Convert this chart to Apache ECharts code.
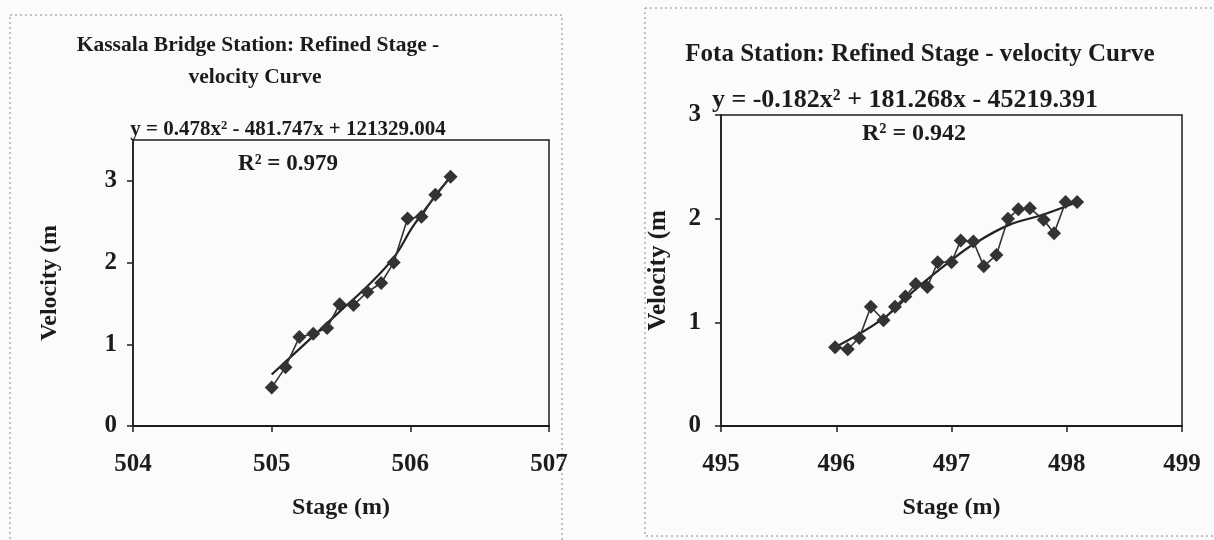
<!DOCTYPE html>
<html>
<head>
<meta charset="utf-8">
<script src="https://cdn.jsdelivr.net/npm/echarts@6/dist/echarts.min.js"></script>
<style>
  html, body { margin: 0; padding: 0; background: #fbfbfb; }
  #chart { width: 1214px; height: 540px; }
</style>
</head>
<body>
<div id="chart"></div>
<script>
// Kassala Bridge station
var kassalaStage = [505.0, 505.1, 505.2, 505.3, 505.4, 505.49, 505.59, 505.69, 505.79, 505.88, 505.98, 506.08, 506.18, 506.29];
var kassalaVel = [0.47, 0.72, 1.09, 1.13, 1.20, 1.49, 1.48, 1.64, 1.75, 2.00, 2.54, 2.56, 2.83, 3.05];
// trend line
var kassalaTrendStage = [505.0, 505.3, 505.49, 505.69, 505.88, 506.03, 506.29];
var kassalaTrendVel = [0.63, 1.10, 1.40, 1.71, 2.06, 2.47, 3.05];

// Fota station
var fotaStage = [495.99, 496.10, 496.20, 496.30, 496.41, 496.51, 496.60, 496.69, 496.79, 496.88, 497.00,
  497.08, 497.19, 497.28, 497.39, 497.49, 497.58, 497.68, 497.80, 497.89, 497.99, 498.09];
var fotaVel = [0.76, 0.74, 0.85, 1.15, 1.02, 1.15, 1.25, 1.37, 1.34, 1.58, 1.58,
  1.79, 1.78, 1.54, 1.65, 2.00, 2.09, 2.10, 1.99, 1.86, 2.16, 2.16];
var fotaTrendStage = [495.99, 496.4, 496.7, 497.0, 497.2, 497.5, 497.8, 498.09];
var fotaTrendVel = [0.76, 1.03, 1.33, 1.60, 1.76, 1.94, 2.04, 2.16];

// axis ranges and texts
var kassalaXTicks = [504, 507];
var kassalaYTicks = [0, 3.5];
var fotaXTicks = [495, 499];
var fotaYTicks = [0, 3];
var kassalaTitle = ['Kassala Bridge Station: Refined Stage -', 'velocity Curve'];
var kassalaEq = 'y = 0.478x\u00b2 - 481.747x + 121329.004';
var kassalaR2 = 'R\u00b2 = 0.979';
var fotaTitle = 'Fota Station: Refined Stage - velocity Curve';
var fotaEq = 'y = -0.182x\u00b2 + 181.268x - 45219.391';
var fotaR2 = 'R\u00b2 = 0.942';

var FONT = '"Liberation Serif", "Times New Roman", serif';
var INK = '#1c1c1c';

function pairs(xs, ys) {
  var out = [];
  for (var i = 0; i < xs.length; i++) out.push([xs[i], ys[i]]);
  return out;
}

function xAxisCfg(idx, range) {
  return {
    type: 'value', gridIndex: idx, min: range[0], max: range[1], interval: 1,
    name: 'Stage (m)', nameLocation: 'middle', nameGap: 70,
    nameTextStyle: { fontFamily: FONT, fontWeight: 'bold', fontSize: 24, color: INK },
    axisLine: { lineStyle: { color: INK, width: 2 } },
    axisTick: { inside: false, length: 6, lineStyle: { color: INK, width: 1.5 } },
    axisLabel: { margin: 26, fontFamily: FONT, fontWeight: 'bold', fontSize: 25, color: INK },
    splitLine: { show: false }
  };
}

function yAxisCfg(idx, range, gap, lblGap, nameSize, hideMax) {
  return {
    type: 'value', gridIndex: idx, min: range[0], max: range[1], interval: 1,
    name: 'Velocity (m', nameLocation: 'middle', nameGap: gap, nameRotate: 90,
    nameTextStyle: { fontFamily: FONT, fontWeight: 'bold', fontSize: nameSize, color: INK },
    axisLine: { show: true, lineStyle: { color: INK, width: 1.5 } },
    axisTick: { inside: false, length: 6, lineStyle: { color: INK, width: 1.5 } },
    axisLabel: { margin: lblGap, showMaxLabel: !hideMax, fontFamily: FONT, fontWeight: 'bold', fontSize: 25, color: INK },
    splitLine: { show: false }
  };
}

function txt(t, x, y, size) {
  return {
    type: 'text', x: x, y: y, silent: true,
    style: { text: t, fill: INK, font: 'bold ' + size + 'px ' + FONT, textAlign: 'center', textVerticalAlign: 'middle' }
  };
}

var chart = echarts.init(document.getElementById('chart'));
var option = {
  animation: false,
  backgroundColor: '#fbfbfb',
  grid: [
    { left: 133, top: 140, width: 416, height: 286, show: true, borderColor: INK, borderWidth: 1.5, backgroundColor: 'transparent' },
    { left: 721, top: 115, width: 461, height: 311, show: true, borderColor: INK, borderWidth: 1.5, backgroundColor: 'transparent' }
  ],
  xAxis: [xAxisCfg(0, kassalaXTicks), xAxisCfg(1, fotaXTicks)],
  yAxis: [yAxisCfg(0, kassalaYTicks, 71, 16, 24, true), yAxisCfg(1, fotaYTicks, 50, 20, 25, false)],
  series: [
    {
      name: 'Kassala', type: 'line', xAxisIndex: 0, yAxisIndex: 0,
      data: pairs(kassalaStage, kassalaVel),
      symbol: 'diamond', symbolSize: 14,
      itemStyle: { color: '#333' }, lineStyle: { color: '#333', width: 1.6 }
    },
    {
      name: 'Kassala trend', type: 'line', xAxisIndex: 0, yAxisIndex: 0,
      data: pairs(kassalaTrendStage, kassalaTrendVel),
      smooth: 0.4, showSymbol: false, symbol: 'none',
      lineStyle: { color: '#222', width: 2.2 }, z: 1
    },
    {
      name: 'Fota', type: 'line', xAxisIndex: 1, yAxisIndex: 1,
      data: pairs(fotaStage, fotaVel),
      symbol: 'diamond', symbolSize: 14,
      itemStyle: { color: '#333' }, lineStyle: { color: '#333', width: 1.6 }
    },
    {
      name: 'Fota trend', type: 'line', xAxisIndex: 1, yAxisIndex: 1,
      data: pairs(fotaTrendStage, fotaTrendVel),
      smooth: 0.4, showSymbol: false, symbol: 'none',
      lineStyle: { color: '#222', width: 2.2 }, z: 1
    }
  ],
  graphic: [
    // dotted panel borders
    { type: 'rect', shape: { x: 10, y: 15, width: 552, height: 540 }, silent: true,
      style: { fill: 'none', stroke: '#888', lineWidth: 1, lineDash: [2, 3] } },
    { type: 'rect', shape: { x: 645, y: 8, width: 580, height: 528 }, silent: true,
      style: { fill: 'none', stroke: '#888', lineWidth: 1, lineDash: [2, 3] } },
    txt(kassalaTitle[0], 258, 45, 21.5),
    txt(kassalaTitle[1], 255, 77, 21.5),
    txt(kassalaEq, 288, 130, 21),
    txt(kassalaR2, 288, 164, 23),
    txt(fotaTitle, 920, 55, 25),
    txt(fotaEq, 905, 100, 26),
    txt(fotaR2, 914, 134, 24)
  ]
};
chart.setOption(option);
</script>
</body>
</html>
